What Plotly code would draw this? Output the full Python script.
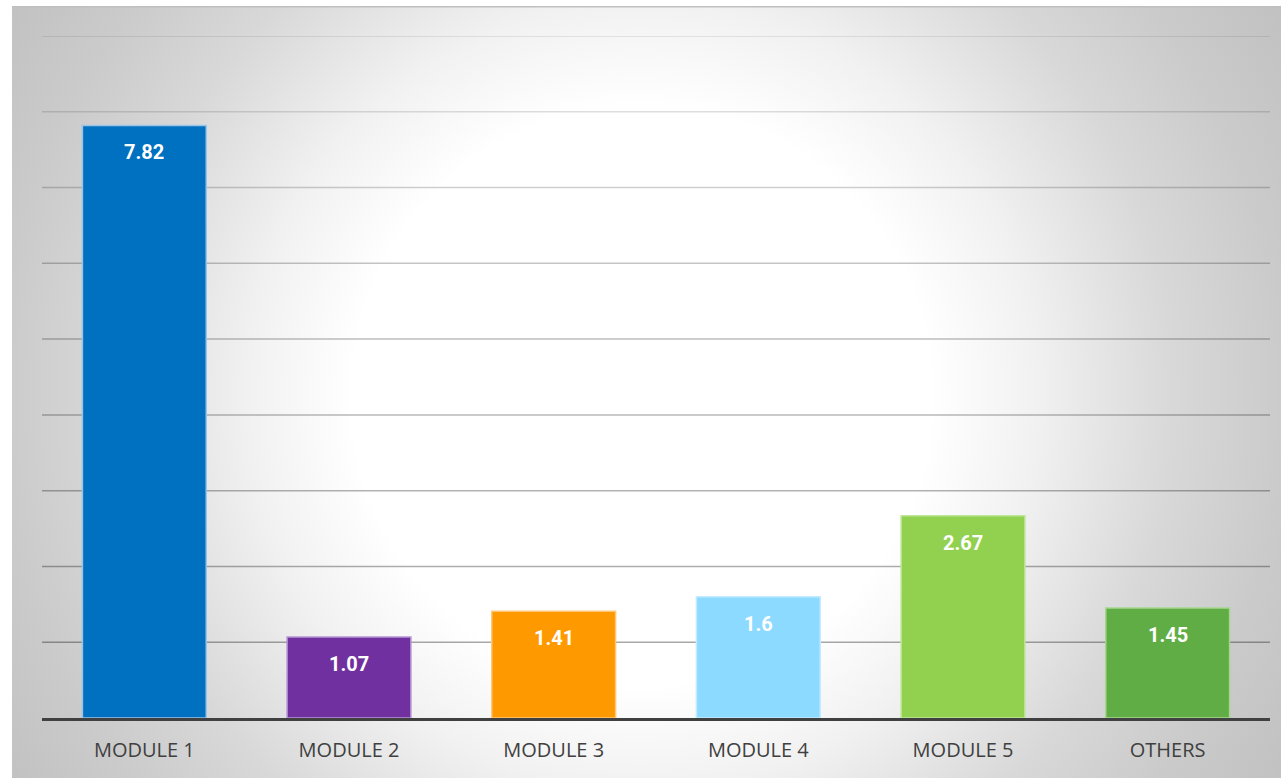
import plotly.graph_objects as go
import urllib.parse

categories = ["MODULE 1", "MODULE 2", "MODULE 3", "MODULE 4", "MODULE 5", "OTHERS"]
values = [7.82, 1.07, 1.41, 1.6, 2.67, 1.45]
bar_colors = ["#0070C0", "#7030A0", "#FF9900", "#8CDAFF", "#92D050", "#60AD46"]
edge_colors = ["#9DC3E6", "#B595D5", "#FFC878", "#C2EBFF", "#BEE69A", "#A6D690"]
grid_values = [1, 2, 3, 4, 5, 6, 7, 8, 9]
grid_alpha = [0.34, 0.32, 0.30, 0.28, 0.26, 0.23, 0.19, 0.13, 0.11]

W, H = 1281, 778
ml, mr, mt, mb = 42, 11, 36, 60
pw, ph = W - ml - mr, H - mt - mb

# radial gradient background (as SVG image)
bw, bh = 1269, 772
svg = (
    f'<svg xmlns="http://www.w3.org/2000/svg" width="{bw}" height="{bh}" viewBox="0 0 {bw} {bh}">'
    '<defs><radialGradient id="g" gradientUnits="userSpaceOnUse" cx="630" cy="390" r="760">'
    '<stop offset="0" stop-color="#ffffff"/>'
    '<stop offset="0.38" stop-color="#ffffff"/>'
    '<stop offset="0.52" stop-color="#f1f1f1"/>'
    '<stop offset="0.70" stop-color="#d8d8d8"/>'
    '<stop offset="0.84" stop-color="#cbcbcb"/>'
    '<stop offset="1" stop-color="#c0c0c0"/>'
    '</radialGradient></defs>'
    f'<rect x="0" y="0" width="{bw}" height="{bh}" fill="url(#g)"/>'
    f'<line x1="0" y1="0.5" x2="{bw}" y2="0.5" stroke="#bfbfbf" stroke-width="2"/>'
    '</svg>'
)
src = "data:image/svg+xml;charset=utf-8," + urllib.parse.quote(svg)

fig = go.Figure()
fig.add_trace(go.Bar(
    x=categories, y=values,
    marker=dict(color=bar_colors, line=dict(color=edge_colors, width=1.5)),
    width=0.605,
    hoverinfo="skip",
))

for c, v in zip(categories, values):
    fig.add_annotation(
        x=c, y=v, text=str(v), showarrow=False, yshift=-27,
        yanchor="middle", xanchor="center",
        font=dict(family="Roboto", size=20, color="#ffffff", weight="bold"),
    )

shapes = []
for gv, a in zip(grid_values, grid_alpha):
    shapes.append(dict(type="line", xref="paper", yref="y", x0=0, x1=1, y0=gv, y1=gv,
                       line=dict(color=f"rgba(0,0,0,{a})", width=1.5), layer="below"))

fig.update_layout(
    width=W, height=H,
    margin=dict(l=ml, r=mr, t=mt, b=mb, pad=0),
    paper_bgcolor="#ffffff",
    plot_bgcolor="rgba(0,0,0,0)",
    showlegend=False,
    bargap=0.395,
    shapes=shapes,
    images=[dict(source=src, xref="paper", yref="paper",
                 x=(12 - ml) / pw, y=(H - mb - 6) / ph,
                 sizex=bw / pw, sizey=bh / ph,
                 xanchor="left", yanchor="top", sizing="stretch", layer="below")],
    xaxis=dict(showgrid=False, showline=True, linecolor="#404040", linewidth=3,
               tickfont=dict(family="Open Sans", size=20, color="#404040"),
               ticks="", ticklabelstandoff=12, fixedrange=True),
    yaxis=dict(range=[0, 9], showgrid=False, zeroline=False, showticklabels=False,
               showline=False, fixedrange=True),
)

fig.write_html("out.html", config={"displayModeBar": False},
               post_script="document.body.style.margin='0';document.body.style.overflow='hidden';")
